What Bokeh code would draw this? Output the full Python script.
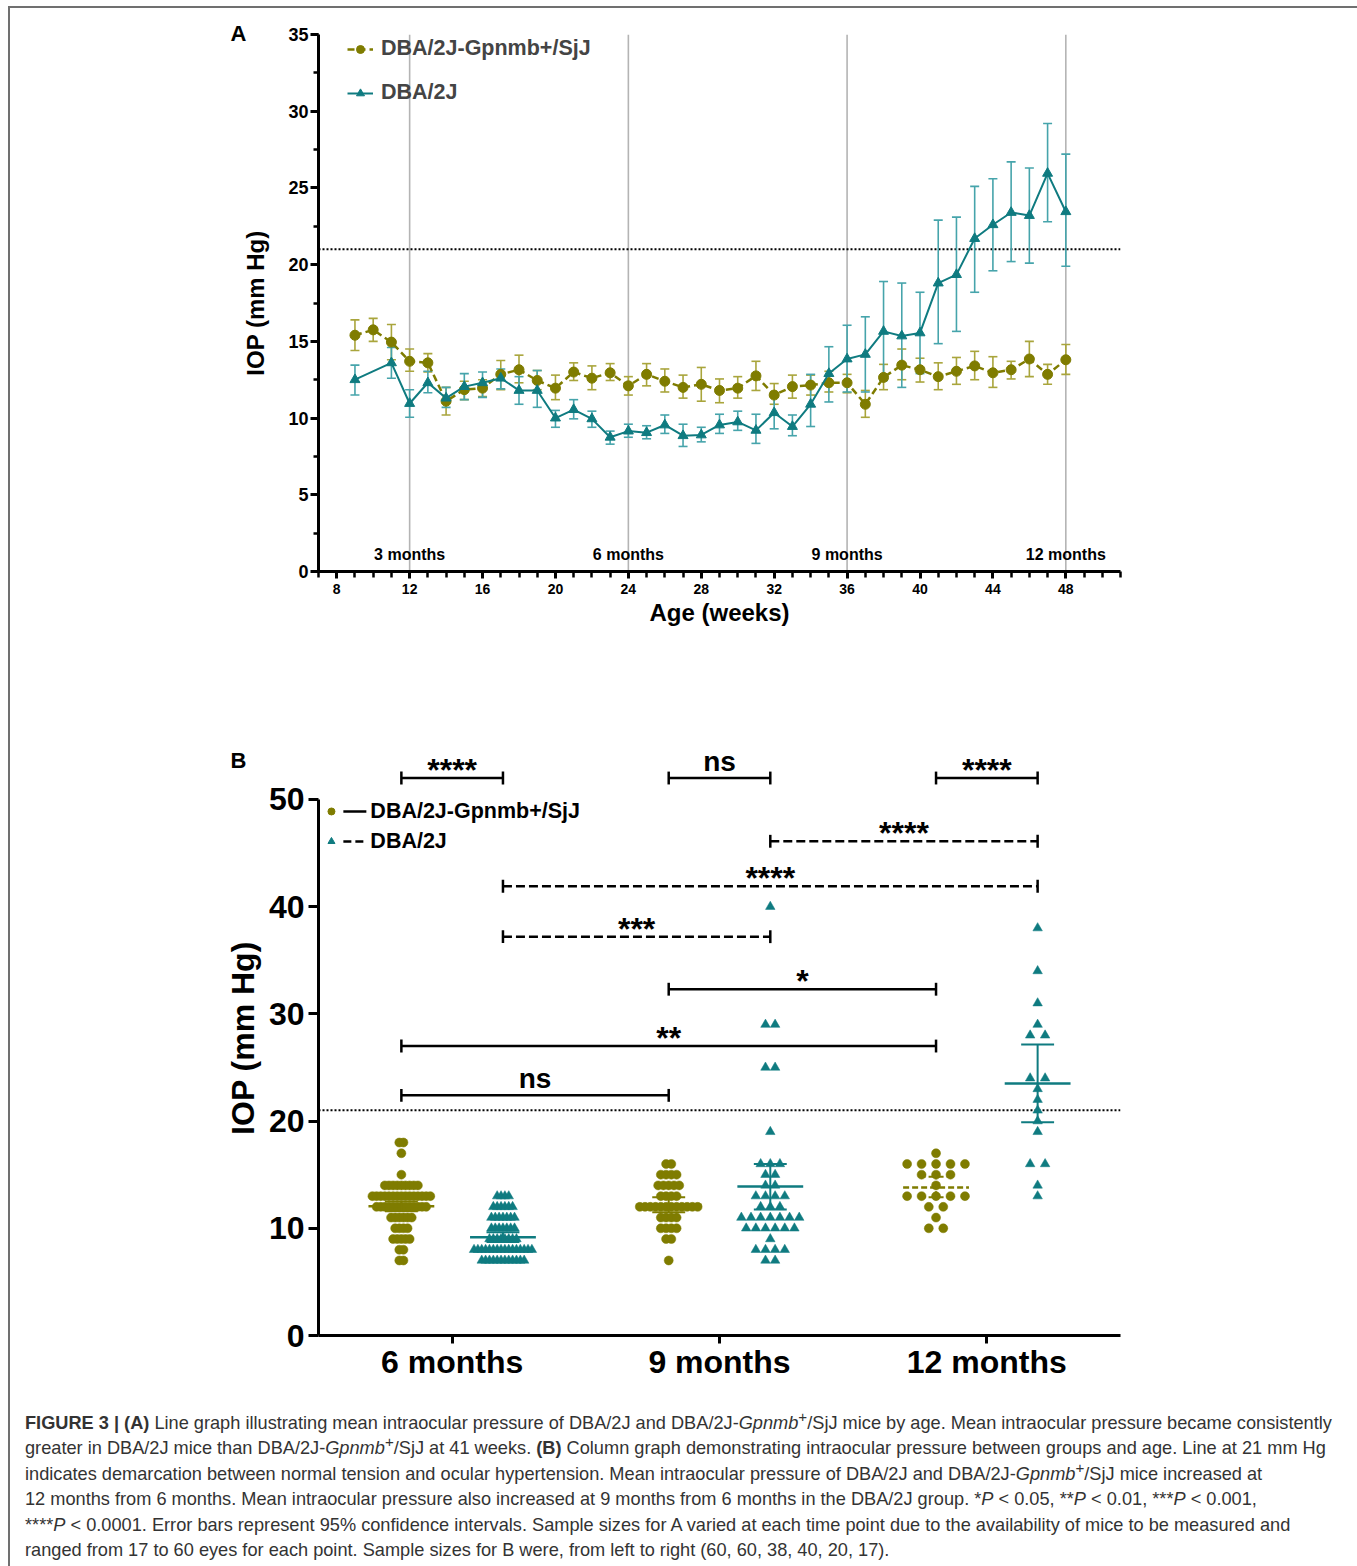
import numpy as np
from bokeh.plotting import figure
from bokeh.models import (Range1d, SingleIntervalTicker, FixedTicker, Span, Whisker, TeeHead,
                          ColumnDataSource, Legend, LegendItem, Title, Div)
from bokeh.layouts import column
from bokeh.embed import file_html
from bokeh.resources import INLINE
from bokeh.core.properties import value

# ---------------- Panel A data (mean IOP by age, 95% CI) ----------------
weeks_gpnmb = [9, 10, 11, 12, 13, 14, 15, 16, 17, 18, 19, 20, 21, 22, 23, 24, 25, 26, 27, 28,
               29, 30, 31, 32, 33, 34, 35, 36, 37, 38, 39, 40, 41, 42, 43, 44, 45, 46, 47, 48]
iop_gpnmb = [15.4, 15.75, 14.95, 13.7, 13.6, 11.1, 11.85, 11.95, 12.85, 13.15,
             12.45, 11.95, 13.0, 12.6, 12.95, 12.1, 12.85, 12.4, 12.0, 12.2,
             11.8, 11.95, 12.75, 11.5, 12.05, 12.15, 12.3, 12.3, 10.9, 12.65,
             13.45, 13.15, 12.7, 13.05, 13.4, 12.95, 13.15, 13.85, 12.85, 13.8]
iop_gpnmb_hi = [16.4, 16.5, 16.1, 14.5, 14.2, 12.0, 12.4, 12.5, 13.75, 14.1,
                13.1, 12.8, 13.6, 13.4, 13.55, 12.7, 13.55, 13.2, 12.8, 13.3,
                12.55, 12.7, 13.7, 12.25, 12.8, 12.8, 13.05, 12.85, 11.8, 13.5,
                14.5, 13.9, 13.6, 13.95, 14.35, 14.0, 13.7, 15.0, 13.5, 14.8]
iop_gpnmb_lo = [14.4, 15.0, 13.8, 13.05, 13.0, 10.2, 11.2, 11.4, 11.85, 12.3,
                11.85, 11.2, 12.45, 11.85, 12.45, 11.5, 12.1, 11.7, 11.3, 11.1,
                11.0, 11.3, 11.8, 10.9, 11.3, 11.5, 11.7, 11.65, 10.05, 11.85,
                12.5, 12.35, 11.85, 12.2, 12.5, 12.0, 12.55, 12.7, 12.2, 12.85]

weeks_dba = [9, 11, 12, 13, 14, 15, 16, 17, 18, 19, 20, 21, 22, 23, 24, 25, 26, 27, 28,
             29, 30, 31, 32, 33, 34, 35, 36, 37, 38, 39, 40, 41, 42, 43, 44, 45, 46, 47, 48]
iop_dba = [12.5, 13.6, 10.95, 12.3, 11.3, 12.05, 12.3, 12.6, 11.8, 11.8,
           10.0, 10.55, 9.95, 8.75, 9.15, 9.05, 9.55, 8.85, 8.9, 9.55,
           9.75, 9.2, 10.35, 9.45, 10.9, 12.9, 13.85, 14.15, 15.65, 15.35,
           15.55, 18.8, 19.35, 21.7, 22.6, 23.4, 23.2, 25.95, 23.45]
iop_dba_hi = [13.45, 14.6, 11.85, 13.05, 12.0, 12.9, 13.0, 13.2, 12.7, 13.1,
              10.5, 11.2, 10.45, 9.15, 9.6, 9.5, 10.2, 9.6, 9.4, 10.25,
              10.45, 10.25, 11.6, 10.2, 12.85, 14.65, 16.05, 16.6, 18.9, 18.8,
              18.2, 22.9, 23.1, 25.1, 25.6, 26.7, 26.3, 29.2, 27.2]
iop_dba_lo = [11.5, 12.6, 10.05, 11.65, 10.7, 11.2, 11.35, 11.9, 10.9, 10.7,
              9.4, 9.95, 9.4, 8.3, 8.75, 8.65, 9.0, 8.15, 8.45, 9.0,
              9.2, 8.35, 9.3, 8.85, 9.45, 11.05, 11.7, 11.7, 12.45, 12.0,
              12.9, 14.85, 15.65, 18.2, 19.6, 20.2, 20.1, 22.8, 19.9]

month_weeks = [12, 24, 36, 48]
month_labels = ["3 months", "6 months", "9 months", "12 months"]
threshold = 21

# ---------------- Panel B data (individual eyes) ----------------
ages_b = ["6 months", "9 months", "12 months"]
iop_6m_gpnmb = [18, 18, 17, 15, 14, 14, 14, 14, 14, 14, 14, 14, 14,
                13, 13, 13, 13, 13, 13, 13, 13, 13, 13, 13, 13, 13, 13, 13,
                12, 12, 12, 12, 12, 12, 12, 12, 12, 12, 12, 12, 12,
                11, 11, 11, 11, 11, 11, 10, 10, 10, 10, 9, 9, 9, 9, 9, 8, 8, 7, 7]
iop_6m_dba = [13, 13, 13, 13, 12, 12, 12, 12, 12, 12, 11, 11, 11, 11, 11, 11, 11,
              10, 10, 10, 10, 10, 10, 10, 9, 9, 9, 9, 9, 9, 9, 9,
              8, 8, 8, 8, 8, 8, 8, 8, 8, 8, 8, 8, 8, 8, 8, 8,
              7, 7, 7, 7, 7, 7, 7, 7, 7, 7, 7, 7]
iop_9m_gpnmb = [16, 16, 15, 15, 15, 15, 14, 14, 14, 14, 14, 13, 13, 13, 13,
                12, 12, 12, 12, 12, 12, 12, 12, 12, 12, 12, 12,
                11, 11, 11, 11, 10, 10, 10, 10, 9, 9, 7]
iop_9m_dba = [40, 29, 29, 25, 25, 19, 16, 16, 16, 15, 15, 14, 14, 13, 13, 13, 13,
              12, 12, 12, 11, 11, 11, 11, 11, 11, 11, 10, 10, 10, 10, 10, 10,
              9, 8, 8, 8, 8, 7, 7]
iop_12m_gpnmb = [17, 16, 16, 16, 16, 16, 15, 15, 15, 14, 13, 13, 13, 13, 13, 12, 12, 11, 10, 10]
iop_12m_dba = [38, 34, 31, 29, 28, 28, 24, 24, 23, 22, 21, 20, 19, 16, 16, 14, 13]

# group summary (mean, 95% CI)
grp_mean = [12.05, 9.17, 12.2, 13.9, 13.8, 23.5]
grp_lo = [11.6, 8.72, 11.5, 11.75, 12.9, 19.9]
grp_hi = [12.5, 9.62, 12.9, 16.0, 14.8, 27.15]

# significance comparisons (group index 0..5: 6m G, 6m D, 9m G, 9m D, 12m G, 12m D)
sig_from = [0, 2, 4, 3, 1, 1, 2, 0, 0]
sig_to = [1, 3, 5, 5, 5, 3, 4, 4, 2]
sig_y = [52.0, 52.0, 52.0, 46.1, 41.9, 37.2, 32.3, 27.0, 22.4]
sig_text = ["****", "ns", "****", "****", "****", "***", "*", "**", "ns"]
sig_dashed = [False, False, False, True, True, True, False, False, False]

# ---------------- styling ----------------
FONT = "Liberation Sans"
OLIVE = "#7f7c00"
OLIVE_ERR = "#a9a53c"
TEAL = "#0f7b80"
TEAL_ERR = "#46a4ab"
PX_B = 268.0  # px per category unit in panel B


def style_axis(ax, tick_size, label_size):
    ax.axis_line_width = 3
    ax.axis_line_color = "black"
    ax.major_tick_line_width = 3
    ax.minor_tick_line_width = 2.5
    ax.major_tick_line_color = "black"
    ax.minor_tick_line_color = "black"
    ax.major_tick_in = 0
    ax.minor_tick_in = 0
    ax.major_label_text_font = FONT
    ax.major_label_text_font_style = "bold"
    ax.major_label_text_font_size = tick_size
    ax.major_label_text_color = "black"
    ax.axis_label_text_font = FONT
    ax.axis_label_text_font_style = "bold"
    ax.axis_label_text_font_size = label_size
    ax.axis_label_text_color = "black"


def panel_letter(txt, offset, standoff):
    return Title(text=txt, align="left", offset=offset, standoff=standoff, vertical_align="bottom",
                 text_font=FONT, text_font_style="bold", text_font_size="22px",
                 text_color="black")


# ================= Panel A =================
pA = figure(width=1343, height=692, x_range=Range1d(7, 51), y_range=Range1d(0, 35),
            output_backend="svg", toolbar_location=None, title=None,
            min_border_left=308, min_border_right=228, min_border_top=26, min_border_bottom=129)
pA.xgrid.visible = False
pA.ygrid.visible = False
pA.outline_line_color = None
pA.background_fill_color = "white"

pA.xaxis.ticker = SingleIntervalTicker(interval=4, num_minor_ticks=4)
pA.yaxis.ticker = SingleIntervalTicker(interval=5, num_minor_ticks=2)
style_axis(pA.xaxis[0], "14px", "24px")
style_axis(pA.yaxis[0], "18px", "24px")
pA.xaxis.axis_label = "Age (weeks)"
pA.yaxis.axis_label = "IOP (mm Hg)"
pA.xaxis.major_tick_out = 7
pA.xaxis.minor_tick_out = 6
pA.yaxis.major_tick_out = 8
pA.yaxis.minor_tick_out = 5
pA.xaxis.major_label_standoff = 5
pA.yaxis.major_label_standoff = 2
pA.xaxis.axis_label_standoff = 2
pA.yaxis.axis_label_standoff = 16

for wk in month_weeks:
    pA.add_layout(Span(location=wk, dimension="height", line_color="#b4b4b4", line_width=1.6,
                       level="underlay"))
pA.add_layout(Span(location=threshold, dimension="width", line_color="black", line_width=2,
                   line_dash="2 2", level="underlay"))

srcG = ColumnDataSource(dict(week=weeks_gpnmb, iop=iop_gpnmb, hi=iop_gpnmb_hi, lo=iop_gpnmb_lo))
srcD = ColumnDataSource(dict(week=weeks_dba, iop=iop_dba, hi=iop_dba_hi, lo=iop_dba_lo))

for src, col in ((srcG, OLIVE_ERR), (srcD, TEAL_ERR)):
    pA.add_layout(Whisker(source=src, base="week", upper="hi", lower="lo",
                          line_color=col, line_width=1.6, level="underlay",
                          upper_head=TeeHead(size=9, line_color=col, line_width=1.6),
                          lower_head=TeeHead(size=9, line_color=col, line_width=1.6)))

lG = pA.line("week", "iop", source=srcG, line_color=OLIVE, line_width=2.5, line_dash="7 4")
sG = pA.scatter("week", "iop", source=srcG, marker="circle", size=10,
                fill_color=OLIVE, line_color=OLIVE)
lD = pA.line("week", "iop", source=srcD, line_color=TEAL, line_width=2)
sD = pA.scatter("week", "iop", source=srcD, marker="triangle", size=10,
                fill_color=TEAL, line_color=TEAL)

pA.text(x=month_weeks, y=1.1, text=month_labels, text_font=value(FONT), text_font_style="bold",
        text_font_size="16px", text_align="center", text_baseline="middle", text_color="black")

legA = Legend(items=[LegendItem(label="DBA/2J-Gpnmb+/SjJ", renderers=[lG, sG]),
                     LegendItem(label="DBA/2J", renderers=[lD, sD])],
              location=(29, 466), orientation="vertical",
              label_text_font=FONT, label_text_font_size="21.5px", label_text_font_style="bold",
              glyph_width=26, glyph_height=20, label_height=20, label_standoff=8,
              spacing=19, padding=0, margin=0, border_line_color=None,
              background_fill_alpha=0)
pA.add_layout(legA)
pA.add_layout(panel_letter("A", -88, -22), "above")

# ================= Panel B =================
pB = figure(width=1343, height=695, x_range=Range1d(0.5, 3.5), y_range=Range1d(0, 55.5),
            output_backend="svg", toolbar_location=None, title=None,
            min_border_left=306, min_border_right=233, min_border_top=40, min_border_bottom=60)
pB.xgrid.visible = False
pB.ygrid.visible = False
pB.outline_line_color = None

pB.xaxis.ticker = FixedTicker(ticks=[1, 2, 3], minor_ticks=[])
pB.xaxis.major_label_overrides = {i + 1: lab for i, lab in enumerate(ages_b)}
pB.yaxis.ticker = SingleIntervalTicker(interval=10, num_minor_ticks=0)
pB.yaxis.bounds = (0, 50)
style_axis(pB.xaxis[0], "32px", "32px")
style_axis(pB.yaxis[0], "32px", "32px")
pB.yaxis.axis_label = "IOP (mm Hg)"
pB.xaxis.major_tick_out = 8
pB.yaxis.major_tick_out = 10
pB.xaxis.major_label_standoff = 0
pB.yaxis.major_label_standoff = 4
pB.yaxis.axis_label_standoff = 5

pB.add_layout(Span(location=threshold, dimension="width", line_color="black", line_width=2,
                   line_dash="2 2", level="underlay"))

groups = [iop_6m_gpnmb, iop_6m_dba, iop_9m_gpnmb, iop_9m_dba, iop_12m_gpnmb, iop_12m_dba]
grp_x = [a + d for a in (1, 2, 3) for d in (-0.19, 0.19)]
grp_col = [OLIVE, TEAL, OLIVE, TEAL, OLIVE, TEAL]
grp_marker = ["circle", "triangle"] * 3


def swarm(vals, center, max_w_px=58.0, cap_px=15.0):
    uniq, counts = np.unique(np.asarray(vals), return_counts=True)
    mx = counts.max()
    sp = cap_px if mx < 2 else min(cap_px, max_w_px / (mx - 1))
    xs, ys = [], []
    for u, c in zip(uniq, counts):
        for i in range(c):
            xs.append(center + (i - (c - 1) / 2.0) * sp / PX_B)
            ys.append(float(u))
    return xs, ys


for k in range(6):
    xs, ys = swarm(groups[k], grp_x[k])
    pB.scatter(xs, ys, marker=grp_marker[k], size=9 if k % 2 == 0 else 9.5,
               fill_color=grp_col[k], line_color=grp_col[k], line_width=0.5)

half_mean = 33.0 / PX_B
half_cap = 16.5 / PX_B
for k in range(6):
    cx = grp_x[k]
    dash = "6 3" if k == 4 else "solid"
    pB.segment(x0=[cx - half_mean], y0=[grp_mean[k]], x1=[cx + half_mean], y1=[grp_mean[k]],
               line_color=grp_col[k], line_width=2.5, line_dash=dash)
    pB.segment(x0=[cx - half_cap, cx - half_cap, cx], y0=[grp_lo[k], grp_hi[k], grp_lo[k]],
               x1=[cx + half_cap, cx + half_cap, cx], y1=[grp_lo[k], grp_hi[k], grp_hi[k]],
               line_color=grp_col[k], line_width=2, line_dash=dash)

# significance brackets
tick_h = 0.6
for dashed in (False, True):
    idx = [i for i in range(len(sig_y)) if sig_dashed[i] == dashed]
    x0 = [grp_x[sig_from[i]] for i in idx]
    x1 = [grp_x[sig_to[i]] for i in idx]
    yy = [sig_y[i] for i in idx]
    pB.segment(x0=x0, y0=yy, x1=x1, y1=yy, line_color="black", line_width=2.5,
               line_dash="9 4" if dashed else "solid")
    pB.segment(x0=x0 + x1, y0=[y - tick_h for y in yy] * 2, x1=x0 + x1,
               y1=[y + tick_h for y in yy] * 2, line_color="black", line_width=2.5)

for is_ns in (False, True):
    idx = [i for i in range(len(sig_y)) if (sig_text[i] == "ns") == is_ns]
    tx = [(grp_x[sig_from[i]] + grp_x[sig_to[i]]) / 2 for i in idx]
    ty = [sig_y[i] + (1.55 if is_ns else 0.75) for i in idx]
    pB.text(x=tx, y=ty, text=[sig_text[i] for i in idx], text_font=value(FONT),
            text_font_style="bold", text_font_size="28px" if is_ns else "32px",
            text_align="center", text_baseline="alphabetic", text_color="black")

# legend of panel B (marker + bracket line style + name)
legB_names = ["DBA/2J-Gpnmb+/SjJ", "DBA/2J"]
legB_y = [48.88, 46.08]
pB.scatter([0.5485], [legB_y[0]], marker="circle", size=7, fill_color=OLIVE, line_color=OLIVE)
pB.scatter([0.5485], [legB_y[1]], marker="triangle", size=7, fill_color=TEAL, line_color=TEAL)
pB.segment(x0=[0.593], y0=[legB_y[0]], x1=[0.679], y1=[legB_y[0]], line_color="black", line_width=2.5)
pB.segment(x0=[0.593], y0=[legB_y[1]], x1=[0.679], y1=[legB_y[1]], line_color="black",
           line_width=2.5, line_dash="8 4")
pB.text(x=0.694, y=legB_y, text=legB_names, text_font=value(FONT), text_font_style="bold",
        text_font_size="21.5px", text_align="left", text_baseline="middle", text_color="black")
pB.add_layout(panel_letter("B", -88, -65), "above")

# ================= Caption =================
G = "DBA/2J-<i>Gpnmb</i><sup style='line-height:0'>+</sup>/SjJ"
lines = [
    "<b>FIGURE 3 | (A)</b> Line graph illustrating mean intraocular pressure of DBA/2J and " + G +
    " mice by age. Mean intraocular pressure became consistently",
    "greater in DBA/2J mice than " + G + " at 41 weeks. <b>(B)</b> Column graph demonstrating "
    "intraocular pressure between groups and age. Line at 21 mm Hg",
    "indicates demarcation between normal tension and ocular hypertension. Mean intraocular "
    "pressure of DBA/2J and " + G + " mice increased at",
    "12 months from 6 months. Mean intraocular pressure also increased at 9 months from 6 months "
    "in the DBA/2J group. *<i>P</i> &lt; 0.05, **<i>P</i> &lt; 0.01, ***<i>P</i> &lt; 0.001,",
    "****<i>P</i> &lt; 0.0001. Error bars represent 95% confidence intervals. Sample sizes for A "
    "varied at each time point due to the availability of mice to be measured and",
    "ranged from 17 to 60 eyes for each point. Sample sizes for B were, from left to right "
    "(60, 60, 38, 40, 20, 17).",
]
cap_html = ("<div style=\"font-family:'Liberation Sans',Arial,sans-serif;font-size:18.2px;"
            "line-height:25.4px;color:#333333;padding:11px 0 0 10px;white-space:nowrap;\">"
            + "<br>".join(lines) + "</div>")
caption = Div(text=cap_html, width=1343, height=163)

layout = column(pA, pB, caption,
                styles={"border-top": "2px solid #707070", "border-left": "2px solid #707070",
                        "border-right": "2px solid #707070", "background-color": "white",
                        "margin": "6px 0 0 8px"})

with open("out.html", "w") as f:
    f.write(file_html(layout, INLINE))
